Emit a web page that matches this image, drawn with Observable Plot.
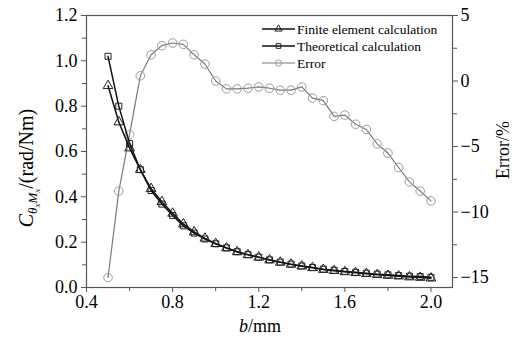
<!DOCTYPE html>
<html>
<head>
<meta charset="utf-8">
<script src="https://cdn.jsdelivr.net/npm/d3@7"></script>
<script src="https://cdn.jsdelivr.net/npm/@observablehq/plot@0.6"></script>
<style>
  html, body { margin: 0; padding: 0; background: #fff; }
  #chart svg { display: block; }
  #chart svg text { font-family: "Liberation Serif", "Times New Roman", "DejaVu Serif", serif; }
</style>
</head>
<body>
<div id="chart"></div>
<script>
// ---- data ----
const b = [0.5,0.55,0.6,0.65,0.7,0.75,0.8,0.85,0.9,0.95,1.0,1.05,1.1,1.15,1.2,1.25,1.3,1.35,1.4,1.45,1.5,1.55,1.6,1.65,1.7,1.75,1.8,1.85,1.9,1.95,2.0];
const theoretical = [1.02,0.80,0.635,0.52,0.428,0.368,0.318,0.272,0.24,0.214,0.193,0.175,0.158,0.145,0.134,0.122,0.112,0.103,0.095,0.088,0.081,0.076,0.071,0.067,0.063,0.059,0.056,0.053,0.050,0.048,0.045];
const finiteElement = [0.89,0.73,0.615,0.52,0.436,0.378,0.327,0.28,0.245,0.217,0.193,0.174,0.157,0.144,0.133,0.121,0.111,0.102,0.094,0.087,0.079,0.074,0.069,0.065,0.061,0.056,0.053,0.050,0.046,0.044,0.041];
const errorPct = [-15.0,-8.4,-4.1,0.4,2.0,2.7,2.9,2.8,2.0,1.3,0.0,-0.6,-0.6,-0.55,-0.45,-0.55,-0.7,-0.7,-0.45,-1.3,-1.5,-2.7,-2.6,-3.3,-3.7,-4.8,-5.5,-6.6,-7.7,-8.4,-9.15];

const xTicks = [0.4,0.8,1.2,1.6,2.0];
const xMinor = [0.6,1.0,1.4,1.8];
const yTicks = [0,0.2,0.4,0.6,0.8,1.0,1.2];
const yMinor = [0.1,0.3,0.5,0.7,0.9,1.1];
const errTicks = [-15,-10,-5,0,5];
const errMinor = [-12.5,-7.5,-2.5,2.5];
const errDomain = [-15.76, 5];
const yDomain = [0, 1.2];
const seriesNames = ["Finite element calculation", "Theoretical calculation", "Error"];

// ---- build ----
const serif = "'Liberation Serif', 'Times New Roman', 'DejaVu Serif', serif";
const toLeft = d3.scaleLinear().domain(errDomain).range(yDomain);
const fmtErr = d3.format("d");
const rows = b.map((x, i) => ({b: x, th: theoretical[i], fe: finiteElement[i], err: toLeft(errorPct[i])}));

const axisColor = "#555";
const chart = Plot.plot({
  width: 521,
  height: 342,
  marginLeft: 86,
  marginRight: 69,
  marginTop: 15,
  marginBottom: 55,
  style: {fontFamily: serif, fontSize: "18px", color: "#000", background: "#fff"},
  x: {domain: [0.4, 2.1]},
  y: {domain: yDomain},
  marks: [
    Plot.axisX(xTicks, {tickSize: 5, tickPadding: 3, stroke: axisColor, tickFormat: d3.format(".1f"), label: null, fill: "#000"}),
    Plot.axisX(xMinor, {tickSize: 4, stroke: axisColor, tickFormat: () => "", label: null}),
    Plot.axisY(yTicks, {tickSize: 5, tickPadding: 4, stroke: axisColor, tickFormat: d3.format(".1f"), label: null, fill: "#000"}),
    Plot.axisY(yMinor, {tickSize: 4, stroke: axisColor, tickFormat: () => "", label: null}),
    Plot.axisY(errTicks.map(toLeft), {anchor: "right", tickSize: 5, tickPadding: 3, stroke: axisColor, tickFormat: d => fmtErr(Math.round(toLeft.invert(d))), label: null, fill: "#000"}),
    Plot.axisY(errMinor.map(toLeft), {anchor: "right", tickSize: 4, stroke: axisColor, tickFormat: () => "", label: null}),
    Plot.frame({stroke: axisColor, strokeWidth: 1.2}),
    Plot.line(rows, {x: "b", y: "err", stroke: "#7a7a7a", strokeWidth: 1.2}),
    Plot.dot(rows, {x: "b", y: "err", r: 4.3, stroke: "#9a9a9a", strokeWidth: 1, fill: "none"}),
    Plot.line(rows, {x: "b", y: "fe", stroke: "#111", strokeWidth: 1.5}),
    Plot.dot(rows, {x: "b", y: "fe", symbol: "triangle", r: 3.6, stroke: "#222", strokeWidth: 1, fill: "none"}),
    Plot.line(rows, {x: "b", y: "th", stroke: "#111", strokeWidth: 1.5}),
    Plot.dot(rows, {x: "b", y: "th", symbol: "square", r: 3.4, stroke: "#222", strokeWidth: 1, fill: "none"})
  ]
});
document.getElementById("chart").appendChild(chart);

// ---- titles and legend ----
const svg = d3.select(chart);

// left axis title with subscripts
const lt = svg.append("text")
  .attr("transform", "translate(33,168) rotate(-90)")
  .attr("text-anchor", "middle")
  .attr("font-family", serif)
  .attr("font-size", 20)
  .attr("fill", "#000");
lt.append("tspan").attr("font-style", "italic").text("C");
lt.append("tspan").attr("font-style", "italic").attr("font-size", 13).attr("dy", 4).text("θ");
lt.append("tspan").attr("font-style", "italic").attr("font-size", 9).attr("dy", 3).text("x");
lt.append("tspan").attr("font-style", "italic").attr("font-size", 13).attr("dy", -3).text("M");
lt.append("tspan").attr("font-style", "italic").attr("font-size", 9).attr("dy", 3).text("x");
lt.append("tspan").attr("dy", -7).text("/(rad/Nm)");

// right axis title
svg.append("text")
  .attr("transform", "translate(509,150) rotate(-90)")
  .attr("text-anchor", "middle")
  .attr("font-family", serif)
  .attr("font-size", 18)
  .attr("fill", "#000")
  .text("Error/%");

// x axis title
const xt = svg.append("text")
  .attr("x", 260).attr("y", 332)
  .attr("text-anchor", "middle")
  .attr("font-family", serif)
  .attr("font-size", 18)
  .attr("fill", "#000");
xt.append("tspan").attr("font-style", "italic").text("b");
xt.append("tspan").text("/mm");

// legend
const legendY = [29, 46, 63];
const legendStyles = [
  {stroke: "#111", sym: d3.symbolTriangle, sw: 1.5, ms: "#222"},
  {stroke: "#111", sym: d3.symbolSquare, sw: 1.5, ms: "#222"},
  {stroke: "#7a7a7a", sym: d3.symbolCircle, sw: 1.2, ms: "#9a9a9a"}
];
seriesNames.forEach((name, i) => {
  const g = svg.append("g");
  const st = legendStyles[i];
  g.append("line").attr("x1", 262).attr("x2", 295).attr("y1", legendY[i]).attr("y2", legendY[i])
    .attr("stroke", st.stroke).attr("stroke-width", st.sw);
  g.append("path").attr("d", d3.symbol(st.sym, i === 2 ? 30 : 22)())
    .attr("transform", `translate(278.5,${legendY[i]})`)
    .attr("fill", "none").attr("stroke", st.ms).attr("stroke-width", 1);
  g.append("text").attr("x", 297).attr("y", legendY[i]).attr("dy", "0.35em")
    .attr("text-anchor", "start")
    .attr("font-family", serif).attr("font-size", 13.5).attr("fill", "#000").text(name);
});
</script>
</body>
</html>
